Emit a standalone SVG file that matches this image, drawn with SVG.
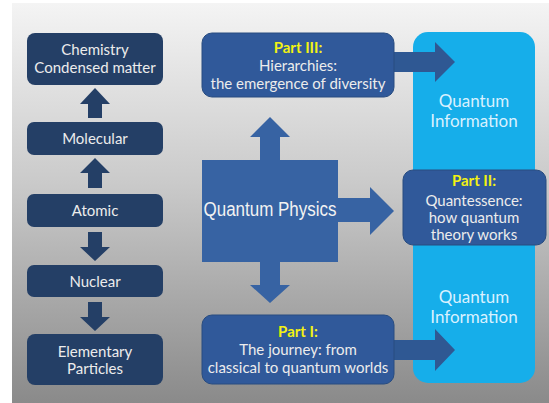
<svg xmlns="http://www.w3.org/2000/svg" width="549" height="403" viewBox="0 0 549 403">
<defs>
<linearGradient id="bg" x1="0" y1="0" x2="0" y2="1">
<stop offset="0" stop-color="#f4f4f4"/>
<stop offset="0.45" stop-color="#cacaca"/>
<stop offset="1" stop-color="#8a8a8a"/>
</linearGradient>
<style>
.dark{fill:#243f66;}
.part{fill:#30599a;stroke:#284c80;stroke-width:1;}
.qp{fill:#3763a3;}
.arr{fill:#2f5893;}
.larr{fill:#243f66;}
.t{font-family:Lato,"Open Sans","Liberation Sans",sans-serif;font-size:15px;fill:#ececec;text-anchor:middle;}
.y{fill:#f2f213;font-weight:bold;}
.qi{font-family:Lato,"Open Sans","Liberation Sans",sans-serif;font-size:17px;fill:#d9f1ff;text-anchor:middle;}
</style>
</defs>
<rect x="0" y="0" width="549" height="403" fill="#ffffff"/>
<rect x="12" y="3" width="537" height="400" fill="url(#bg)"/>
<g id="panel-qi">
<rect x="413" y="32" width="122" height="351" rx="15" fill="#16aeea"/>
<text class="qi" x="474" y="107">Quantum</text>
<text class="qi" x="474" y="127">Information</text>
<text class="qi" x="474" y="303">Quantum</text>
<text class="qi" x="474" y="323">Information</text>
</g>
<g id="connectors">
<polygon class="larr" points="88,118 88,104 80,104 95,88 110,104 102,104 102,118"/>
<polygon class="larr" points="88,188 88,173 80,173 95,158 110,173 102,173 102,188"/>
<polygon class="larr" points="88,232 102,232 102,247 110,247 95,261 80,247 88,247"/>
<polygon class="larr" points="88,302 102,302 102,317 110,317 95,331 80,317 88,317"/>
<polygon class="qp" points="260,161 260,137 250,137 270,117 290,137 280,137 280,161"/>
<polygon class="qp" points="260,261 280,261 280,285 290,285 270,303 250,285 260,285"/>
<polygon class="qp" points="337,198 370,198 370,187 394,211 370,235 370,222 337,222"/>
<polygon class="arr" points="393,52 435,52 435,42 455,62 435,82 435,72 393,72"/>
<polygon class="arr" points="393,340 435,340 435,329 455,350 435,371 435,360 393,360"/>
</g>
<g id="chemistry">
<rect class="dark" x="27" y="33" width="136" height="52" rx="8"/>
<text class="t" x="95" y="55">Chemistry</text>
<text class="t" x="95" y="73">Condensed matter</text>
</g>
<g id="molecular">
<rect class="dark" x="27" y="122" width="136" height="33" rx="7"/>
<text class="t" x="95" y="144">Molecular</text>
</g>
<g id="atomic">
<rect class="dark" x="27" y="194" width="136" height="33" rx="7"/>
<text class="t" x="95" y="216">Atomic</text>
</g>
<g id="nuclear">
<rect class="dark" x="27" y="265" width="136" height="32" rx="7"/>
<text class="t" x="95" y="287">Nuclear</text>
</g>
<g id="elementary">
<rect class="dark" x="27" y="334" width="136" height="51" rx="8"/>
<text class="t" x="95" y="357">Elementary</text>
<text class="t" x="95" y="374">Particles</text>
</g>
<g id="part3">
<rect class="part" x="202" y="33" width="192" height="64" rx="10"/>
<text class="t y" x="298" y="53">Part III:</text>
<text class="t" x="298" y="71">Hierarchies:</text>
<text class="t" x="298" y="89">the emergence of diversity</text>
</g>
<g id="quantum-physics">
<rect class="qp" x="202" y="160" width="136" height="102"/>
<text x="270" y="216" font-family="'Liberation Sans',Arial,sans-serif" font-size="20" fill="#f2f2f2" text-anchor="middle" textLength="133" lengthAdjust="spacingAndGlyphs">Quantum Physics</text>
</g>
<g id="part2">
<rect class="part" x="403" y="170" width="143" height="75" rx="10"/>
<text class="t y" x="474" y="186">Part II:</text>
<text class="t" x="474" y="206">Quantessence:</text>
<text class="t" x="474" y="223">how quantum</text>
<text class="t" x="474" y="240">theory works</text>
</g>
<g id="part1">
<rect class="part" x="202" y="315" width="192" height="69" rx="10"/>
<text class="t y" x="298" y="337">Part I:</text>
<text class="t" x="298" y="355">The journey: from</text>
<text class="t" x="298" y="373">classical to quantum worlds</text>
</g>
</svg>
